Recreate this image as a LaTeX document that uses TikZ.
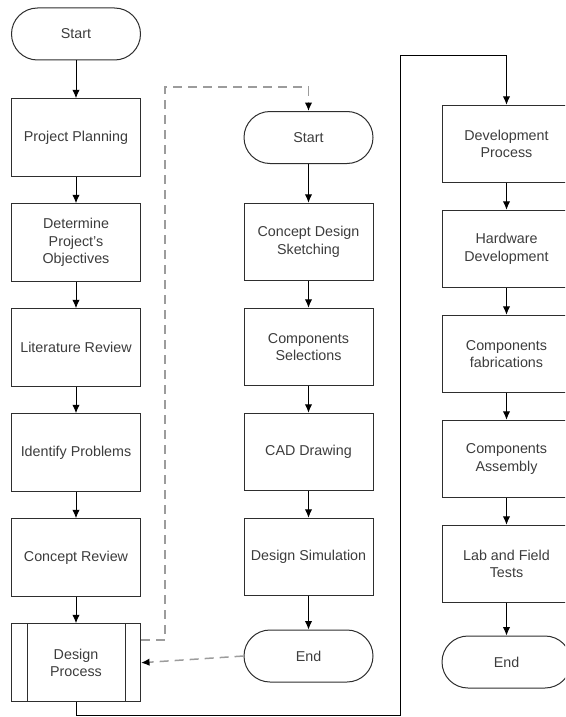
\documentclass[tikz,border=0pt]{standalone}
\usepackage{fontspec}
\setmainfont{Liberation Sans}
\usepackage{xcolor}
\usepackage{tikz}
\usetikzlibrary{positioning,arrows.meta}
\definecolor{boxline}{HTML}{2E2E2E}
\definecolor{textgray}{HTML}{3C3C3C}
\definecolor{dashgray}{HTML}{9C9C9C}

\begin{document}
\begin{tikzpicture}[x=1pt,y=-1pt,node distance=26.5pt,
		every node/.style={font=\fontsize{14.3}{17.5}\selectfont,text=textgray,align=center},
		procbox/.style={draw=boxline,line width=1pt,minimum width=129pt,minimum height=77.5pt,inner sep=2pt},
		termbox/.style={draw=boxline,line width=1pt,rounded corners=26pt,minimum width=129pt,minimum height=52pt,inner sep=2pt},
		flow/.style={-{Latex[length=8.5pt,width=7.5pt]},line width=1pt,draw=black},
		jump/.style={-{Latex[length=8.5pt,width=7.5pt,color=black]},line width=1.5pt,draw=dashgray,dash pattern=on 9pt off 6pt}]
		\useasboundingbox (0,0) rectangle (565,717);
		\clip (0,0) rectangle (565,717);
		\node[termbox] (start1) at (76,34) {Start};
		\node[procbox] (plan) at (76,137.5) {Project Planning};
		\node[procbox,below=of plan] (objectives) {Determine\\Project's\\Objectives};
		\node[procbox,below=of objectives] (litreview) {Literature Review};
		\node[procbox,below=of litreview] (problems) {Identify Problems};
		\node[procbox,below=of problems] (conceptreview) {Concept Review};
		\node[procbox,below=of conceptreview,minimum height=78pt] (designproc) {Design\\Process};
		\draw[boxline,line width=1pt] ([xshift=16pt]designproc.north west) -- ([xshift=16pt]designproc.south west);
		\draw[boxline,line width=1pt] ([xshift=-16pt]designproc.north east) -- ([xshift=-16pt]designproc.south east);
		\node[termbox] (start2) at (308.5,137.5) {Start};
		\node[procbox] (sketching) at (308.5,242) {Concept Design\\Sketching};
		\node[procbox,below=of sketching] (selections) {Components\\Selections};
		\node[procbox,below=of selections] (cad) {CAD Drawing};
		\node[procbox,below=of cad] (simulation) {Design Simulation};
		\node[termbox] (end2) at (308.5,656) {End};
		\node[procbox] (devproc) at (506.5,144) {Development\\Process};
		\node[procbox,below=of devproc] (hardware) {Hardware\\Development};
		\node[procbox,below=of hardware] (fabrication) {Components\\fabrications};
		\node[procbox,below=of fabrication] (assembly) {Components\\Assembly};
		\node[procbox,below=of assembly] (labtests) {Lab and Field\\Tests};
		\node[termbox] (end3) at (506.5,662) {End};
		\draw[flow] (start1) -- (plan);
		\draw[flow] (plan) -- (objectives);
		\draw[flow] (objectives) -- (litreview);
		\draw[flow] (litreview) -- (problems);
		\draw[flow] (problems) -- (conceptreview);
		\draw[flow] (conceptreview) -- (designproc);
		\draw[flow] (start2) -- (sketching);
		\draw[flow] (sketching) -- (selections);
		\draw[flow] (selections) -- (cad);
		\draw[flow] (cad) -- (simulation);
		\draw[flow] (simulation) -- (end2);
		\draw[flow] (devproc) -- (hardware);
		\draw[flow] (hardware) -- (fabrication);
		\draw[flow] (fabrication) -- (assembly);
		\draw[flow] (assembly) -- (labtests);
		\draw[flow] (labtests) -- (end3);
		\coordinate (dashtop) at (165,87);
		\draw[jump] ([yshift=23pt]designproc.east) -| (dashtop) -| (start2.north);
		\draw[jump] (end2.west) -- (designproc.east);
		\coordinate (loopbot) at (400,715);
		\coordinate (looptop) at (400,56);
		\draw[flow] (designproc.south) |- (loopbot) -- (looptop) -| (devproc.north);
	\end{tikzpicture}
\end{document}
